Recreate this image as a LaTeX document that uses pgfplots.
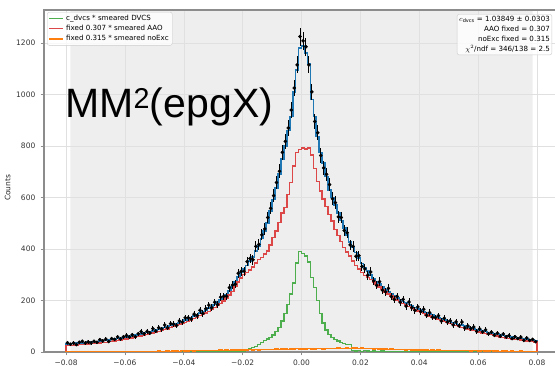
\documentclass[border=0pt]{standalone}
\usepackage{fontspec}
\setmainfont{DejaVu Sans}
\newfontfamily\arialf{Liberation Sans}
\usepackage{pgfplots}
\usepackage{pgfplotstable}
\pgfplotsset{compat=1.18}
\definecolor{tabblue}{HTML}{1F77B4}
\definecolor{tabred}{HTML}{D62728}
\definecolor{tabgreen}{HTML}{2CA02C}
\definecolor{taborange}{HTML}{FF7F0E}

\pgfplotstableread{
x tot aao dvcs noexc data
-0.080 0 0 0 0 nan
-0.080 32 25 0 1 36
-0.079 33 26 0 1 30
-0.078 33 26 0 2 35
-0.077 34 27 0 1 29
-0.076 35 28 0 2 38
-0.075 36 29 0 1 42
-0.074 37 30 0 2 35
-0.073 38 31 0 2 39
-0.072 39 32 0 1 35
-0.071 40 33 0 2 42
-0.070 41 34 0 2 38
-0.069 43 35 0 1 48
-0.068 44 37 0 2 43
-0.067 46 38 0 2 50
-0.066 47 40 0 3 41
-0.065 49 41 0 2 52
-0.064 51 43 0 2 49
-0.063 53 45 0 1 59
-0.062 55 47 0 2 51
-0.061 57 49 0 3 59
-0.060 59 51 0 2 64
-0.059 61 53 0 3 58
-0.058 63 55 0 2 67
-0.057 66 58 1 2 59
-0.056 68 60 0 3 71
-0.055 71 62 0 3 79
-0.054 73 65 0 2 71
-0.053 76 68 1 3 80
-0.052 79 71 0 3 74
-0.051 82 74 0 2 91
-0.050 85 77 1 3 81
-0.049 88 80 0 4 94
-0.048 92 83 2 3 89
-0.047 95 87 1 3 105
-0.046 99 90 0 4 94
-0.045 103 94 1 3 110
-0.044 107 98 2 4 109
-0.043 111 102 0 4 103
-0.042 115 106 1 3 121
-0.041 119 110 2 5 116
-0.040 124 115 1 4 133
-0.039 129 119 0 4 133
-0.038 134 124 2 5 128
-0.037 139 129 1 4 147
-0.036 145 135 1 5 141
-0.035 152 141 2 5 162
-0.034 157 146 0 6 150
-0.033 163 152 2 5 168
-0.032 170 158 1 5 182
-0.031 177 165 2 6 172
-0.030 185 173 1 6 193
-0.029 193 180 1 5 184
-0.028 202 189 2 7 213
-0.027 212 198 3 6 216
-0.026 224 209 2 7 216
-0.025 238 222 1 6 250
-0.024 254 236 3 7 260
-0.023 273 254 2 8 263
-0.022 292 272 3 7 306
-0.021 308 287 3 8 313
-0.020 322 300 4 8 314
-0.019 336 308 6 7 351
-0.018 353 318 13 9 363
-0.017 370 330 18 8 358
-0.016 392 345 22 9 410
-0.015 412 360 30 8 418
-0.014 440 368 38 10 455
-0.013 470 380 44 9 478
-0.012 502 392 50 10 522
-0.011 548 415 56 9 558
-0.010 592 444 66 10 607
-0.009 636 470 80 11 658
-0.008 690 502 96 10 702
-0.007 750 540 120 12 775
-0.006 800 560 150 11 818
-0.005 860 612 185 10 870
-0.004 915 658 225 12 940
-0.003 1010 722 268 11 1025
-0.002 1095 774 345 13 1115
-0.001 1180 787 390 12 1225
0.000 1188 792 382 12 1208
0.001 1160 788 372 11 1185
0.002 1120 792 350 13 1115
0.003 980 765 290 12 1010
0.004 915 712 250 12 895
0.005 836 662 200 13 851
0.006 775 625 150 14 763
0.007 735 594 112 12 715
0.008 682 566 86 13 690
0.009 630 534 68 14 650
0.010 600 508 56 13 595
0.011 570 475 48 14 580
0.012 540 452 42 15 525
0.013 510 428 36 13 522
0.014 482 406 32 14 472
0.015 455 388 30 15 463
0.016 428 372 28 14 416
0.017 405 354 5 16 410
0.018 386 336 4 15 372
0.019 364 322 6 14 374
0.020 344 308 3 15 332
0.021 328 298 5 14 323
0.022 314 290 4 13 298
0.023 299 281 3 14 311
0.024 286 272 4 12 276
0.025 274 262 2 13 259
0.026 263 252 3 12 273
0.027 252 242 4 11 240
0.028 242 233 2 12 234
0.029 233 225 3 10 247
0.030 225 217 2 11 215
0.031 218 210 3 10 204
0.032 210 202 1 9 216
0.033 203 195 2 10 193
0.034 196 188 3 9 204
0.035 190 182 2 8 178
0.036 184 176 1 9 194
0.037 178 170 2 8 172
0.038 172 164 1 7 162
0.039 167 159 2 8 175
0.040 162 154 1 7 157
0.041 157 149 2 8 166
0.042 152 144 1 7 142
0.043 147 139 0 6 153
0.044 143 135 1 7 135
0.045 138 130 2 6 134
0.046 134 126 1 7 141
0.047 130 122 0 6 120
0.048 126 118 1 5 131
0.049 122 114 1 6 116
0.050 118 110 0 6 121
0.051 114 106 1 5 105
0.052 111 103 0 6 117
0.053 107 99 1 5 102
0.054 104 96 0 5 116
0.055 100 92 0 6 93
0.056 97 89 1 5 101
0.057 94 86 0 4 91
0.058 91 83 0 5 97
0.059 88 80 0 5 80
0.060 85 77 0 4 90
0.061 82 74 0 5 78
0.062 79 72 0 4 86
0.063 76 69 0 4 71
0.064 74 67 0 5 77
0.065 71 64 0 4 65
0.066 69 62 0 4 73
0.067 66 59 0 3 61
0.068 64 57 0 4 70
0.069 62 55 0 4 59
0.070 60 53 0 3 64
0.071 58 51 0 4 52
0.072 56 49 0 3 59
0.073 54 48 0 3 52
0.074 53 46 0 4 58
0.075 51 45 0 3 45
0.076 50 43 0 3 54
0.077 48 42 0 2 45
0.078 47 41 0 3 49
0.079 45 39 0 2 40
0.080 0 0 0 0 nan
}\hist

\begin{document}
\begin{tikzpicture}
\begin{axis}[
  scale only axis, width=516pt, height=342pt,
  xmin=-0.0875, xmax=0.0878, ymin=0, ymax=1328,
  set layers,
  axis line style={draw=black!45, line width=1.3pt},
  xtick={-0.08,-0.06,-0.04,-0.02,0,0.02,0.04,0.06,0.08},
  xticklabels={−0.08,−0.06,−0.04,−0.02,0.00,0.02,0.04,0.06,0.08},
  ytick={0,200,400,600,800,1000,1200},
  yticklabels={0,200,400,600,800,1000,1200},
  tick align=outside, major tick length=3.5pt, tick pos=left,
  tick style={draw=black!45, line width=0.8pt},
  ticklabel style={font=\fontsize{7.5}{9}\selectfont, text=black!80},
  yticklabel style={xshift=-4pt, inner xsep=1pt},
  xticklabel style={yshift=-3.5pt, inner ysep=0.5pt},
  grid=major, grid style={draw=black!12, line width=0.6pt},
  ylabel={Counts},
  every axis y label/.style={at={(rel axis cs:0,0.48)}, rotate=90, anchor=south, yshift=30pt, font=\fontsize{7.5}{9}\selectfont, text=black!85},
  legend cell align=left,
  legend style={at={(rel axis cs:0.006,0.994)}, anchor=north west,
    font=\fontsize{7.1}{8.5}\selectfont, draw=black!20, fill=white, fill opacity=0.8, text opacity=1,
    rounded corners=2pt, inner xsep=1.5pt, inner ysep=1pt, row sep=-0.8pt},
  legend image code/.code={\draw[#1, line width=1.4pt] (0pt,0pt) -- (14pt,0pt);},
]
\addplot[fill=black!6.5, draw=none, on layer=axis background, forget plot]
  coordinates {(-0.0785,0) (-0.0785,1328) (0.0785,1328) (0.0785,0)} \closedcycle;
\addplot[const plot mark left, tabblue, line width=1.6pt, forget plot] table[x=x, y=tot] {\hist};
\addplot[const plot mark left, tabgreen!85!white, line width=1.4pt] table[x=x, y=dvcs] {\hist};
\addlegendentry{c\_dvcs * smeared DVCS}
\addplot[const plot mark left, tabred!85!white, line width=1.4pt] table[x=x, y=aao] {\hist};
\addlegendentry{fixed 0.307 * smeared AAO}
\addplot[const plot mark left, taborange, line width=1.4pt] table[x=x, y=noexc] {\hist};
\addlegendentry{fixed 0.315 * smeared noExc}
\addplot[only marks, mark=*, mark size=1.6pt, black, forget plot,
  error bars/.cd, y dir=both, y explicit, error mark=none,
  error bar style={line width=1pt, black}]
  table[x expr=\thisrow{x}+0.0005, y=data, y error expr=sqrt(\thisrow{data})] {\hist};
\node[anchor=north east, draw=black!20, fill=white, fill opacity=0.8, text opacity=1,
  rounded corners=2pt, align=right, font=\fontsize{7.1}{10}\selectfont, inner sep=2pt]
  at (rel axis cs:0.9845,0.988)
  {$c_{\mathrm{dvcs}}$ = 1.03849 ± 0.0303\\AAO fixed = 0.307\\noExc fixed = 0.315\\$\chi^2$/ndf = 346/138 = 2.5};
\node[anchor=base west, inner sep=0pt, font=\arialf\fontsize{41}{45}\selectfont]
  at (rel axis cs:0.0407,0.687) {MM\textsuperscript{2}(epgX)};
\end{axis}
\pgfresetboundingbox
\path[use as bounding box] (-44pt,-14pt) rectangle (511pt,352pt);
\end{tikzpicture}
\end{document}
